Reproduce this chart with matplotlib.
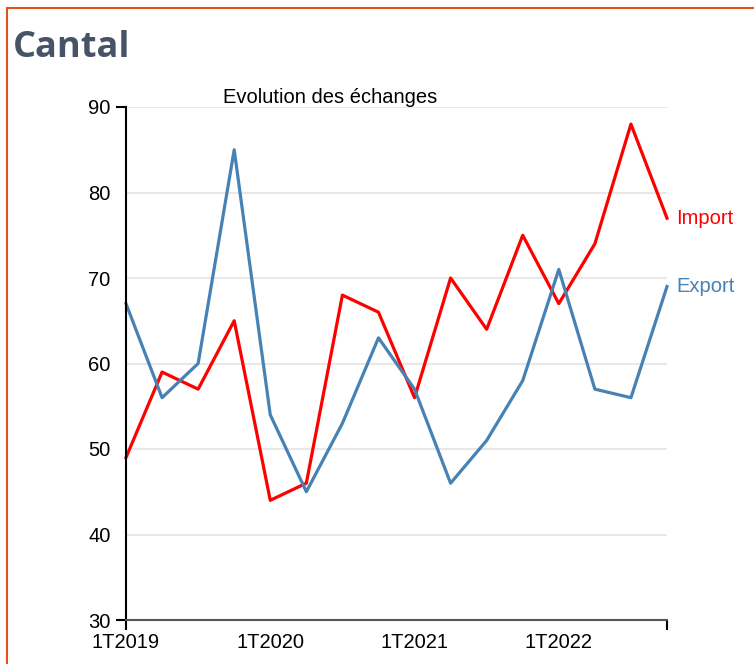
import matplotlib.pyplot as plt
from matplotlib.patches import Rectangle
from matplotlib.ticker import FixedLocator

quarters = ["1T2019", "2T2019", "3T2019", "4T2019",
            "1T2020", "2T2020", "3T2020", "4T2020",
            "1T2021", "2T2021", "3T2021", "4T2021",
            "1T2022", "2T2022", "3T2022", "4T2022"]
imports = [49, 59, 57, 65, 44, 46, 68, 66, 56, 70, 64, 75, 67, 74, 88, 77]
exports = [67, 56, 60, 85, 54, 45, 53, 63, 57, 46, 51, 58, 71, 57, 56, 69]
y_ticks = [30, 40, 50, 60, 70, 80, 90]

W, H = 754, 664
fig = plt.figure(figsize=(W / 100, H / 100), dpi=100)

# orange frame (right and bottom edges run off the picture)
fig.patches.append(Rectangle((7 / W, -0.1), 2, 1 - 8 / H + 0.1, transform=fig.transFigure,
                             fill=False, edgecolor="#e0521c", linewidth=1.5))
fig.text(13 / W, 1 - 57 / H, "Cantal", fontsize=26, fontweight="bold",
         color="#475467", family="Open Sans")

ax = fig.add_axes([126 / W, (H - 620) / H, (667 - 126) / W, (620 - 107) / H])
x = list(range(len(quarters)))
ax.plot(x, imports, color="#ff0000", lw=2.3, clip_on=False)
ax.plot(x, exports, color="#4682b4", lw=2.3, clip_on=False)
ax.text(x[-1] + 0.25, imports[-1], "Import", color="#ff0000", fontsize=14.5,
        family="Liberation Sans", va="center")
ax.text(x[-1] + 0.25, exports[-1], "Export", color="#4682b4", fontsize=14.5,
        family="Liberation Sans", va="center")

ax.set_xlim(0, len(quarters) - 1)
ax.set_ylim(30, 90)
ax.set_yticks(y_ticks)
ax.set_yticklabels([str(v) for v in y_ticks], family="Liberation Sans", fontsize=14.5)
ax.set_xticks(x[::4])
ax.set_xticklabels(quarters[::4], family="Liberation Sans", fontsize=14.5)
ax.tick_params(axis="both", length=0)
ax.tick_params(axis="y", pad=11)
ax.tick_params(axis="x", pad=9)

# outer ticks at the ends of the axes, d3 style
ax.yaxis.remove_overlapping_locs = False
ax.xaxis.remove_overlapping_locs = False
ax.yaxis.set_minor_locator(FixedLocator([30, 90]))
ax.xaxis.set_minor_locator(FixedLocator([0, len(quarters) - 1]))
ax.tick_params(which="minor", length=7, width=1.5, color="black")

for v in y_ticks[1:]:
    ax.axhline(v, color="#e8e8e8", lw=1.5, zorder=0)

for s in ["top", "right"]:
    ax.spines[s].set_visible(False)
ax.spines["left"].set_linewidth(1.5)
ax.spines["bottom"].set_linewidth(1.5)
ax.spines["bottom"].set_color("#555555")

ax.set_title("Evolution des échanges", family="Liberation Sans", fontsize=14.5,
             x=0.377, pad=3)

fig.savefig("out.png", dpi=100)
